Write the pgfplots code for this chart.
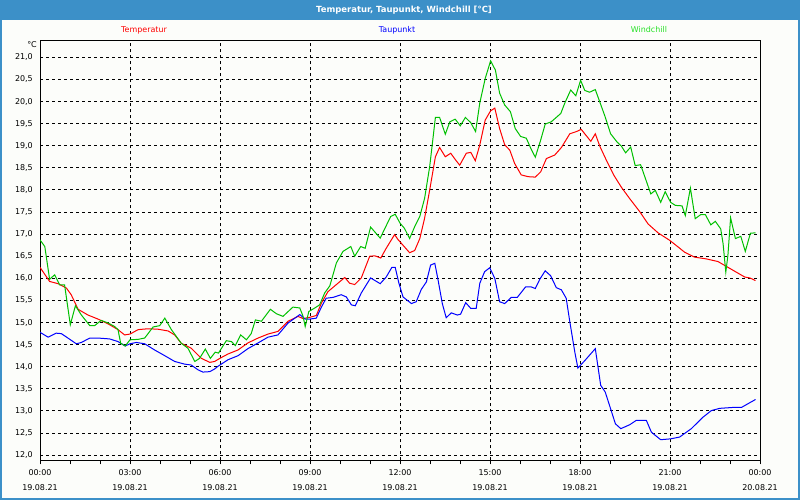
\documentclass[border=0pt]{standalone}
\usepackage{fontspec}
\setmainfont{DejaVu Sans}
\usepackage{pgfplots}
\pgfplotsset{compat=1.18}
\definecolor{barblue}{RGB}{60,144,200}
\definecolor{bgcol}{RGB}{252,253,250}
\definecolor{tempred}{RGB}{255,0,0}
\definecolor{dewblue}{RGB}{0,0,255}
\definecolor{wcgreen}{RGB}{0,192,0}
\definecolor{wctext}{RGB}{40,225,40}
\begin{document}
\begin{tikzpicture}
\fill[bgcol] (0,0) rectangle (800bp,500bp);
\fill[barblue] (0,480bp) rectangle (800bp,500bp);
\draw[barblue, line width=2bp] (1bp,480bp) -- (1bp,1bp) -- (799bp,1bp) -- (799bp,480bp);
\node[white, font=\bfseries\fontsize{8.5}{10}\selectfont] at (404bp,490bp) {Temperatur, Taupunkt, Windchill [°C]};
\node[tempred, font=\fontsize{8}{10}\selectfont] at (144bp,470bp) {Temperatur};
\node[dewblue, font=\fontsize{8}{10}\selectfont] at (397bp,470bp) {Taupunkt};
\node[wctext, font=\fontsize{8}{10}\selectfont] at (649bp,470bp) {Windchill};
\node[anchor=east, font=\fontsize{8}{10}\selectfont, inner sep=0pt] at (37bp,455bp) {°C};
\begin{axis}[
  at={(40bp,39.5bp)}, anchor=south west,
  scale only axis, width=720bp, height=420bp,
  xmin=0, xmax=24, ymin=11.88, ymax=21.38,
  xtick={0,3,...,24},
  xticklabels={{00:00\\19.08.21},{03:00\\19.08.21},{06:00\\19.08.21},{09:00\\19.08.21},{12:00\\19.08.21},{15:00\\19.08.21},{18:00\\19.08.21},{21:00\\19.08.21},{00:00\\20.08.21}},
  minor xtick={1,2,4,5,7,8,10,11,13,14,16,17,19,20,22,23},
  ytick={12,12.5,...,21},
  xmajorgrids, ymajorgrids,
  grid style={black, line width=1bp, dash pattern=on 3bp off 3bp},
  axis line style={black, line width=1bp},
  tick align=outside, xtick pos=bottom, ytick pos=left,
  ytick style={draw=none},
  xtick style={black, line width=1bp},
  major tick length=4bp, minor tick length=4bp,
  tick label style={font=\fontsize{8}{15}\selectfont},
  xticklabel style={align=center, yshift=-2bp},
  yticklabel style={/pgf/number format/fixed, /pgf/number format/fixed zerofill, /pgf/number format/precision=1, /pgf/number format/use comma, /pgf/number format/assume math mode=true, inner sep=1bp, xshift=-2bp},
  every axis plot/.append style={line width=1bp},
]
\addplot[tempred, mark=none] coordinates {
(0,16.25) (0.32,15.93) (0.6,15.88) (0.88,15.78) (1.04,15.63) (1.27,15.30) (1.6,15.17) (1.93,15.08) (2.27,14.97) (2.6,14.84) (2.82,14.72) (3.0,14.74) (3.27,14.84) (3.6,14.86) (3.93,14.85) (4.27,14.81) (4.49,14.72) (4.71,14.53) (5.04,14.42) (5.38,14.19) (5.66,14.10) (5.82,14.12) (6.02,14.20)
(6.27,14.29) (6.6,14.38) (6.93,14.54) (7.27,14.65) (7.6,14.74) (7.93,14.80) (8.27,15.03) (8.6,15.14) (8.77,15.09) (9.0,15.12) (9.21,15.16) (9.38,15.44) (9.6,15.70) (9.88,15.86) (10.16,16.02) (10.32,15.89) (10.49,15.86) (10.71,16.01) (10.99,16.50) (11.16,16.51) (11.36,16.46) (11.54,16.68) (11.82,16.99)
(11.93,16.88) (12.1,16.75) (12.32,16.58) (12.49,16.63) (12.66,16.90) (12.82,17.36) (12.99,18.00) (13.18,18.75) (13.32,18.96) (13.51,18.75) (13.69,18.83) (13.84,18.69) (13.99,18.56) (14.21,18.83) (14.36,18.85) (14.51,18.66) (14.66,19.02) (14.84,19.58) (15.02,19.79) (15.16,19.85) (15.32,19.39) (15.49,19.02) (15.66,18.90) (15.82,18.60) (16.04,18.34) (16.27,18.30) (16.51,18.29) (16.69,18.41) (16.88,18.71) (17.16,18.79) (17.38,18.96) (17.66,19.27) (17.88,19.32)
(18.04,19.37) (18.36,19.10) (18.51,19.27) (18.66,18.99) (18.88,18.67) (19.13,18.33) (19.38,18.06) (19.66,17.80) (19.99,17.51) (20.27,17.23) (20.6,17.03) (20.99,16.86) (21.27,16.71) (21.49,16.59) (21.82,16.48) (22.21,16.44) (22.6,16.38) (22.93,16.25) (23.21,16.14) (23.49,16.03) (23.66,16.01) (23.85,15.95)
};
\addplot[dewblue, mark=none] coordinates {
(0,14.78) (0.27,14.67) (0.54,14.76) (0.71,14.75) (0.93,14.65) (1.21,14.52) (1.38,14.55) (1.66,14.65) (1.93,14.65) (2.32,14.63) (2.6,14.57) (2.84,14.47) (3.0,14.52) (3.21,14.55) (3.49,14.52) (3.82,14.38) (4.16,14.25) (4.49,14.12) (4.82,14.06) (5.04,14.04) (5.27,13.93) (5.43,13.88) (5.66,13.89) (5.82,13.95)
(5.93,14.01) (6.27,14.16) (6.6,14.25) (6.93,14.41) (7.27,14.54) (7.6,14.67) (7.93,14.72) (8.27,14.99) (8.66,15.18) (8.84,15.08) (9.0,15.08) (9.21,15.10) (9.38,15.35) (9.54,15.55) (9.77,15.57) (10.04,15.63) (10.21,15.58) (10.38,15.40) (10.51,15.38) (10.71,15.67) (11.02,16.01) (11.34,15.88) (11.54,16.03) (11.73,16.25) (11.84,16.25)
(11.96,15.90) (12.1,15.58) (12.38,15.43) (12.54,15.47) (12.71,15.75) (12.88,15.92) (13.02,16.30) (13.16,16.34) (13.27,15.96) (13.41,15.43) (13.54,15.11) (13.71,15.22) (13.91,15.17) (14.02,15.19) (14.19,15.45) (14.36,15.32) (14.54,15.32) (14.66,15.89) (14.82,16.15) (14.99,16.24) (15.16,16.00) (15.32,15.47) (15.49,15.43) (15.71,15.57) (15.91,15.57) (16.19,15.81) (16.36,15.81) (16.51,15.77) (16.66,15.98) (16.84,16.17) (17.02,16.06) (17.21,15.79) (17.38,15.74) (17.54,15.55) (17.66,15.02) (17.83,14.32)
(17.93,13.97) (18.16,14.14) (18.51,14.41) (18.69,13.58) (18.84,13.43) (19.02,13.05) (19.18,12.71) (19.36,12.60) (19.66,12.69) (19.88,12.79) (20.21,12.79) (20.38,12.52) (20.69,12.35) (21.02,12.37) (21.32,12.41) (21.71,12.60) (22.1,12.86) (22.38,13.01) (22.66,13.06) (23.1,13.08) (23.38,13.08) (23.85,13.26)
};
\addplot[wcgreen, mark=none] coordinates {
(0,16.87) (0.16,16.72) (0.32,15.98) (0.49,16.08) (0.66,15.85) (0.82,15.85) (1.01,14.95) (1.18,15.38) (1.38,15.17) (1.66,14.93) (1.82,14.93) (2.04,15.05) (2.27,14.99) (2.49,14.91) (2.6,14.84) (2.69,14.53) (2.84,14.47) (3.0,14.61) (3.27,14.62) (3.49,14.65) (3.77,14.90) (3.99,14.93) (4.16,15.10) (4.38,14.84) (4.71,14.53) (4.93,14.42) (5.16,14.12) (5.32,14.19) (5.51,14.40) (5.68,14.19) (5.84,14.33) (5.95,14.31)
(6.21,14.59) (6.38,14.57) (6.51,14.48) (6.69,14.72) (6.88,14.61) (7.04,14.75) (7.18,15.06) (7.38,15.03) (7.68,15.30) (7.88,15.20) (8.1,15.14) (8.43,15.35) (8.66,15.33) (8.77,15.14) (8.84,14.91) (8.96,15.25) (9.16,15.33) (9.32,15.40) (9.49,15.67) (9.66,15.83) (9.88,16.35) (10.1,16.61) (10.36,16.72) (10.49,16.50) (10.69,16.72) (10.84,16.68) (11.02,17.16) (11.34,16.91) (11.69,17.40) (11.84,17.45)
(12.0,17.25) (12.15,17.13) (12.32,16.90) (12.49,17.17) (12.66,17.40) (12.82,17.81) (12.99,18.53) (13.18,19.64) (13.32,19.64) (13.51,19.26) (13.66,19.54) (13.84,19.60) (14.01,19.45) (14.18,19.64) (14.36,19.52) (14.52,19.32) (14.66,19.97) (14.84,20.52) (15.02,20.92) (15.18,20.71) (15.32,20.19) (15.49,19.92) (15.68,19.77) (15.84,19.39) (16.02,19.21) (16.21,19.17) (16.36,18.94) (16.51,18.74) (16.69,19.13) (16.84,19.49) (17.04,19.54) (17.36,19.73) (17.49,19.96) (17.69,20.26) (17.86,20.13)
(18.02,20.48) (18.16,20.25) (18.32,20.21) (18.51,20.27) (18.66,19.99) (18.84,19.65) (19.02,19.27) (19.24,19.08) (19.38,18.99) (19.52,18.84) (19.69,18.97) (19.84,18.55) (20.02,18.57) (20.36,17.91) (20.51,17.99) (20.69,17.72) (20.84,17.96) (21.02,17.72) (21.18,17.65) (21.4,17.64) (21.51,17.42) (21.68,18.04) (21.84,17.35) (22.02,17.44) (22.18,17.44) (22.36,17.21) (22.51,17.29) (22.69,17.12) (22.77,16.78) (22.86,16.14) (22.93,16.52) (23.02,17.37) (23.18,16.90) (23.36,16.95) (23.51,16.61) (23.68,17.02) (23.85,17.03)
};
\end{axis}
\end{tikzpicture}
\end{document}
